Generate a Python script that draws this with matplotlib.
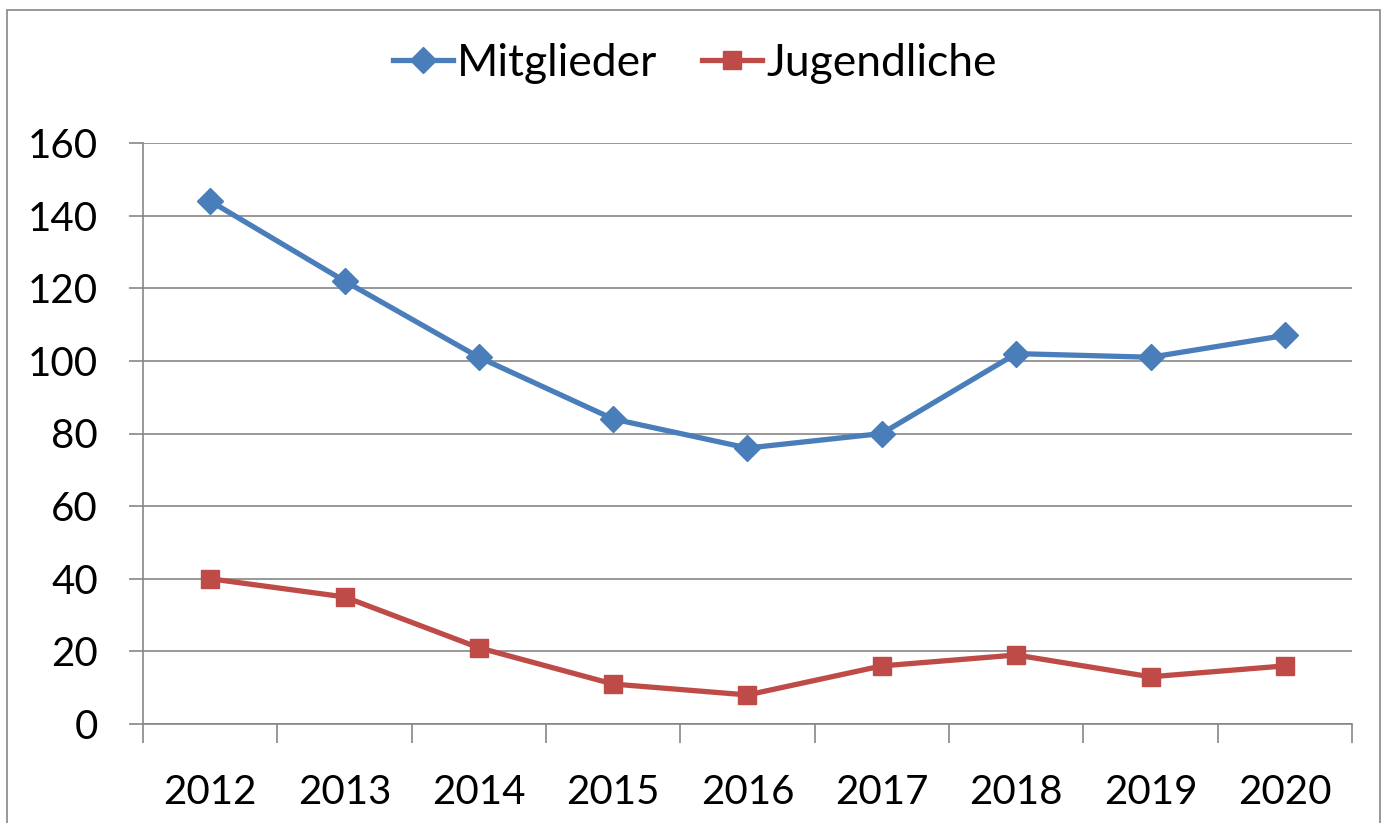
import matplotlib.pyplot as plt
from matplotlib.patches import Rectangle

years = ["2012", "2013", "2014", "2015", "2016", "2017", "2018", "2019", "2020"]
mitglieder = [144, 122, 101, 84, 76, 80, 102, 101, 107]
jugendliche = [40, 35, 21, 11, 8, 16, 19, 13, 16]

plt.rcParams['font.family'] = ['Lato', 'DejaVu Sans']

fig = plt.figure(figsize=(13.87, 8.23), dpi=100)
W, H = 1387, 823

# outer chart border
fig.patches.append(Rectangle((7 / W, -0.05), (1380 - 7) / W, 1.05 - 10 / H,
                             transform=fig.transFigure, fill=False,
                             edgecolor="#868686", linewidth=1.2))

ax = fig.add_axes([143 / W, 1 - 724 / H, (1352 - 143) / W, (724 - 143) / H])

x = list(range(len(years)))
ax.plot(x, mitglieder, color="#4A7EBB", linewidth=3.8, marker="D",
        markersize=13.5, label="Mitglieder")
ax.plot(x, jugendliche, color="#BE4B48", linewidth=3.8, marker="s",
        markersize=13.5, label="Jugendliche")

ax.set_xlim(-0.5, len(years) - 0.5)
ax.set_ylim(0, 160)
ax.set_yticks(range(0, 161, 20))
ax.set_xticks(x)
ax.set_xticklabels(years)
ax.set_xticks([i - 0.5 for i in range(len(years) + 1)], minor=True)

ax.grid(axis="y", color="#868686", linewidth=1.2)
ax.set_axisbelow(True)
for s in ["top", "right"]:
    ax.spines[s].set_visible(False)
for s in ["left", "bottom"]:
    ax.spines[s].set_color("#868686")
    ax.spines[s].set_linewidth(1.2)

ax.tick_params(axis="y", length=10, width=1.2, color="#868686", pad=22.5,
               labelsize=29)
ax.tick_params(axis="x", which="major", length=0, pad=36, labelsize=29)
ax.tick_params(axis="x", which="minor", length=14, width=1.2, color="#868686")

fig.legend(loc="center", bbox_to_anchor=(0.501, 0.923), ncol=2,
           frameon=False, fontsize=32, handlelength=1.35, handletextpad=0.1,
           columnspacing=1.0)

fig.savefig("out.png", dpi=100)
